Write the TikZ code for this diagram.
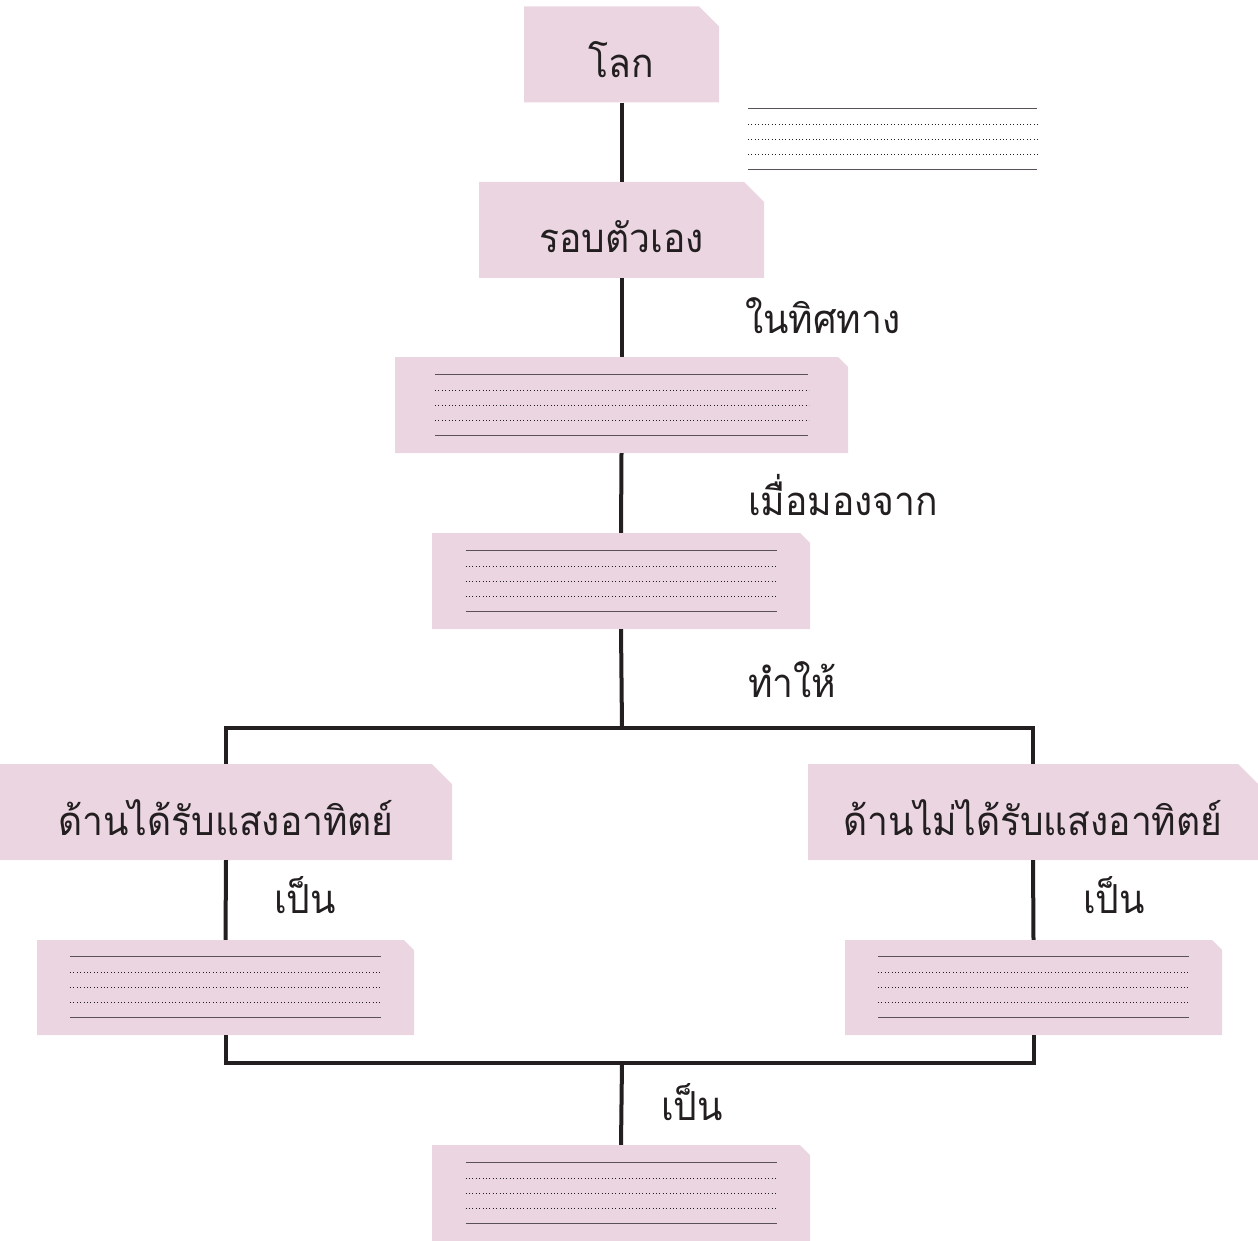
\documentclass[tikz,border=0pt]{standalone}
\usepackage{fontspec}
\newfontfamily\thaifont[Script=Thai,FakeStretch=0.93]{Loma}
\usetikzlibrary{shapes.misc,calc}
\definecolor{boxpink}{RGB}{234,213,225}
\definecolor{ink}{RGB}{35,31,32}
\definecolor{ruleink}{RGB}{90,80,88}
\tikzset{
  cbox/.style={chamfered rectangle, chamfered rectangle corners=north east,
    chamfered rectangle xsep=10pt, chamfered rectangle ysep=10pt,
    fill=boxpink, draw=none, inner sep=0pt, text height=46pt, text depth=0pt,
    font=\thaifont\fontsize{40}{44}\selectfont, text=ink},
  conn/.style={draw=ink, line width=4pt},
  lbl/.style={anchor=base west, inner sep=0pt, font=\thaifont\fontsize{40}{44}\selectfont, text=ink},
  solidrule/.style={draw=ruleink, line width=1pt},
  dotrule/.style={draw=ink, line width=1pt, dash pattern=on 1pt off 2.4pt},
}
\newcommand{\ruleset}[2]{%
  \draw[solidrule] ($(#1)+(-#2/2,-31)$) -- ++(#2,0);
  \draw[dotrule] ($(#1)+(-#2/2,-15)$) -- ++(#2+1,0);
  \draw[dotrule] ($(#1)+(-#2/2,0)$) -- ++(#2+1,0);
  \draw[dotrule] ($(#1)+(-#2/2,15)$) -- ++(#2+1,0);
  \draw[solidrule] ($(#1)+(-#2/2,30)$) -- ++(#2,0);
}
\begin{document}
\begin{tikzpicture}[x=1pt,y=-1pt]
\useasboundingbox (0,0) rectangle (1258,1241);
% boxes
\node[cbox, minimum width=195pt, minimum height=96pt] (world) at (621.5,54.5) {โลก};
\node[cbox, minimum width=285pt, minimum height=96pt] (spin) at (621.5,230) {รอบตัวเอง};
\node[cbox, minimum width=453pt, minimum height=96pt] (dir) at (621.5,405) {};
\node[cbox, minimum width=378pt, minimum height=96pt] (view) at (621,581) {};
\node[cbox, minimum width=452pt, minimum height=96pt] (lit) at (226,812) {ด้านได้รับแสงอาทิตย์};
\node[cbox, minimum width=450pt, minimum height=96pt] (dark) at (1033,812) {ด้านไม่ได้รับแสงอาทิตย์};
\node[cbox, minimum width=377pt, minimum height=95pt] (litres) at (225.5,987.5) {};
\node[cbox, minimum width=377pt, minimum height=95pt] (darkres) at (1033.5,987.5) {};
\node[cbox, minimum width=378pt, minimum height=96pt] (result) at (621,1193) {};
\coordinate (notes) at (892.5,140);
% ruled lines
\ruleset{notes}{289}
\ruleset{dir}{373}
\ruleset{view}{311}
\ruleset{litres}{311}
\ruleset{darkres}{311}
\ruleset{result}{311}
% junctions
\coordinate (jtop) at (622,728);
\coordinate (jbot) at (622,1063);
% connectors
\draw[conn] (world.south) -- (spin.north);
\draw[conn] (spin.south) -- (dir.north);
\draw[conn] (dir.south) -- (view.north);
\draw[conn] (view.south) -- (jtop);
\draw[conn] (lit.north) -- (lit.north |- jtop) -- (dark.north |- jtop) -- (dark.north);
\draw[conn] (lit.south) -- (litres.north);
\draw[conn] (dark.south) -- (darkres.north);
\draw[conn] (litres.south) -- (litres.south |- jbot) -- (darkres.south |- jbot) -- (darkres.south);
\draw[conn] (jbot) -- (result.north);
% labels
\node[lbl] (l1) at (745,333) {ในทิศทาง};
\node[lbl] (l2) at (748,515) {เมื่อมองจาก};
\node[lbl] (l3) at (748,697) {ทำให้};
\node[lbl] (l4) at (274,913) {เป็น};
\node[lbl] (l5) at (1083,913) {เป็น};
\node[lbl] (l6) at (661,1120) {เป็น};
\end{tikzpicture}
\end{document}
